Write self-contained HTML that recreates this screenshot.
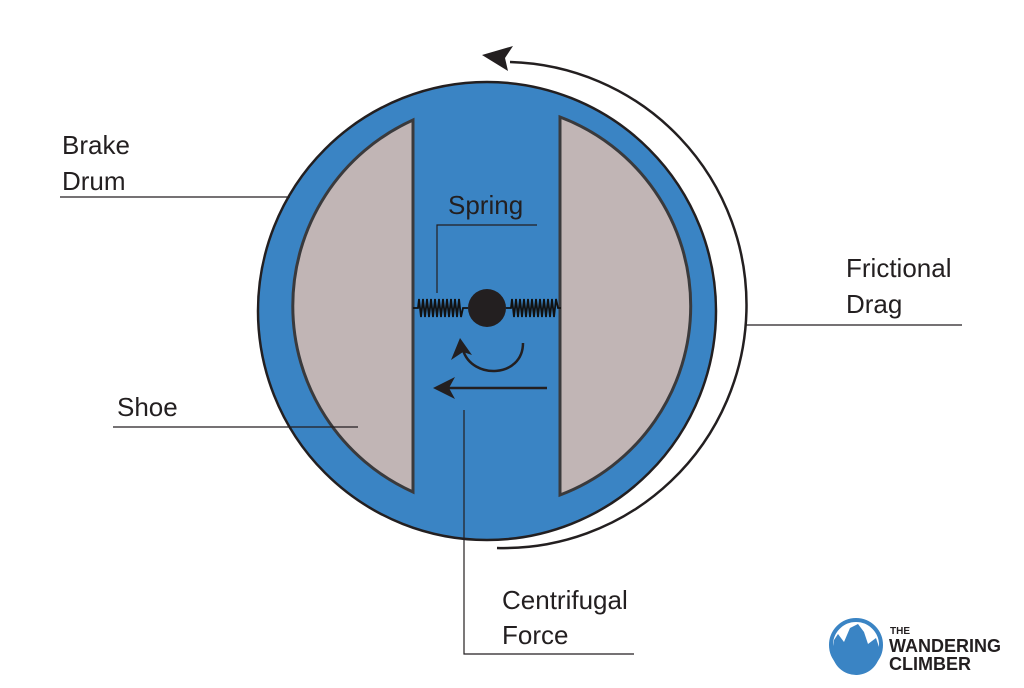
<!DOCTYPE html>
<html><head><meta charset="utf-8"><style>
body{margin:0;background:#fff;}
svg{display:block}
text{font-family:"Liberation Sans",sans-serif;font-size:26px;fill:#231f20}
</style></head><body>
<svg width="1024" height="688" viewBox="0 0 1024 688">
<circle cx="487" cy="311" r="229" fill="#3a84c4" stroke="#231f20" stroke-width="2.5"/>
<path d="M413,120 A204,204 0 0 0 413,492 Z" fill="#c1b5b5" stroke="#3a3a3c" stroke-width="3"/>
<path d="M560,117 A202,202 0 0 1 560,495 Z" fill="#c1b5b5" stroke="#3a3a3c" stroke-width="3"/>
<path d="M413,308 L418,308 L419,299 L421,317 L423,299 L425,317 L427,299 L429,317 L431,299 L433,317 L435,299 L437,317 L439,299 L441,317 L443,299 L445,317 L447,299 L449,317 L451,299 L453,317 L455,299 L457,317 L459,299 L461,317 L463,308 L468,308" fill="none" stroke="#111" stroke-width="1.8"/>
<path d="M506,308 L511,308 L512,299 L514,317 L516,299 L518,317 L520,299 L522,317 L524,299 L526,317 L528,299 L530,317 L532,299 L534,317 L536,299 L538,317 L540,299 L542,317 L544,299 L546,317 L548,299 L550,317 L552,299 L554,317 L556,299 L558,308 L561,308" fill="none" stroke="#111" stroke-width="1.8"/>
<circle cx="487" cy="308" r="19" fill="#231f20"/>
<path d="M523,343 C523,378 472,380 463,350" fill="none" stroke="#231f20" stroke-width="2.5"/>
<path d="M460,338 L472,355 L463,352 L451,360 Z" fill="#231f20"/>
<line x1="547" y1="388" x2="445" y2="388" stroke="#231f20" stroke-width="2.5"/>
<path d="M433,388 L455,377 L449,388 L455,399 Z" fill="#231f20"/>
<path d="M497,548 A240,240 0 0 0 510,62" fill="none" stroke="#231f20" stroke-width="2.5"/>
<path d="M482,55 L513,46 L505,58 L508,71 Z" fill="#231f20"/>
<g stroke="#231f20" stroke-width="1.2" fill="none">
<line x1="60" y1="197" x2="290" y2="197"/>
<polyline points="437,293 437,225 537,225"/>
<line x1="746" y1="325" x2="962" y2="325"/>
<line x1="113" y1="427" x2="358" y2="427"/>
<polyline points="464,410 464,654 634,654"/>
</g>
<text x="62" y="154">Brake</text>
<text x="62" y="190">Drum</text>
<text x="448" y="214">Spring</text>
<text x="846" y="277">Frictional</text>
<text x="846" y="313">Drag</text>
<text x="117" y="416">Shoe</text>
<text x="502" y="609">Centrifugal</text>
<text x="502" y="644">Force</text>
<circle cx="856" cy="645" r="25" fill="#fff" stroke="#3a84c4" stroke-width="4"/>
<path d="M834,640 L838,634 L844,642 L850,628 L858,624 L864,632 L868,644 L876,638 L880,650 A24,24 0 0 1 832,652 Z" fill="#3a84c4"/>
<text x="890" y="634" style="font-size:10px;font-weight:bold">THE</text>
<text x="889" y="652" style="font-size:18px;font-weight:bold">WANDERING</text>
<text x="889" y="670" style="font-size:18px;font-weight:bold">CLIMBER</text>
</svg>
</body></html>
